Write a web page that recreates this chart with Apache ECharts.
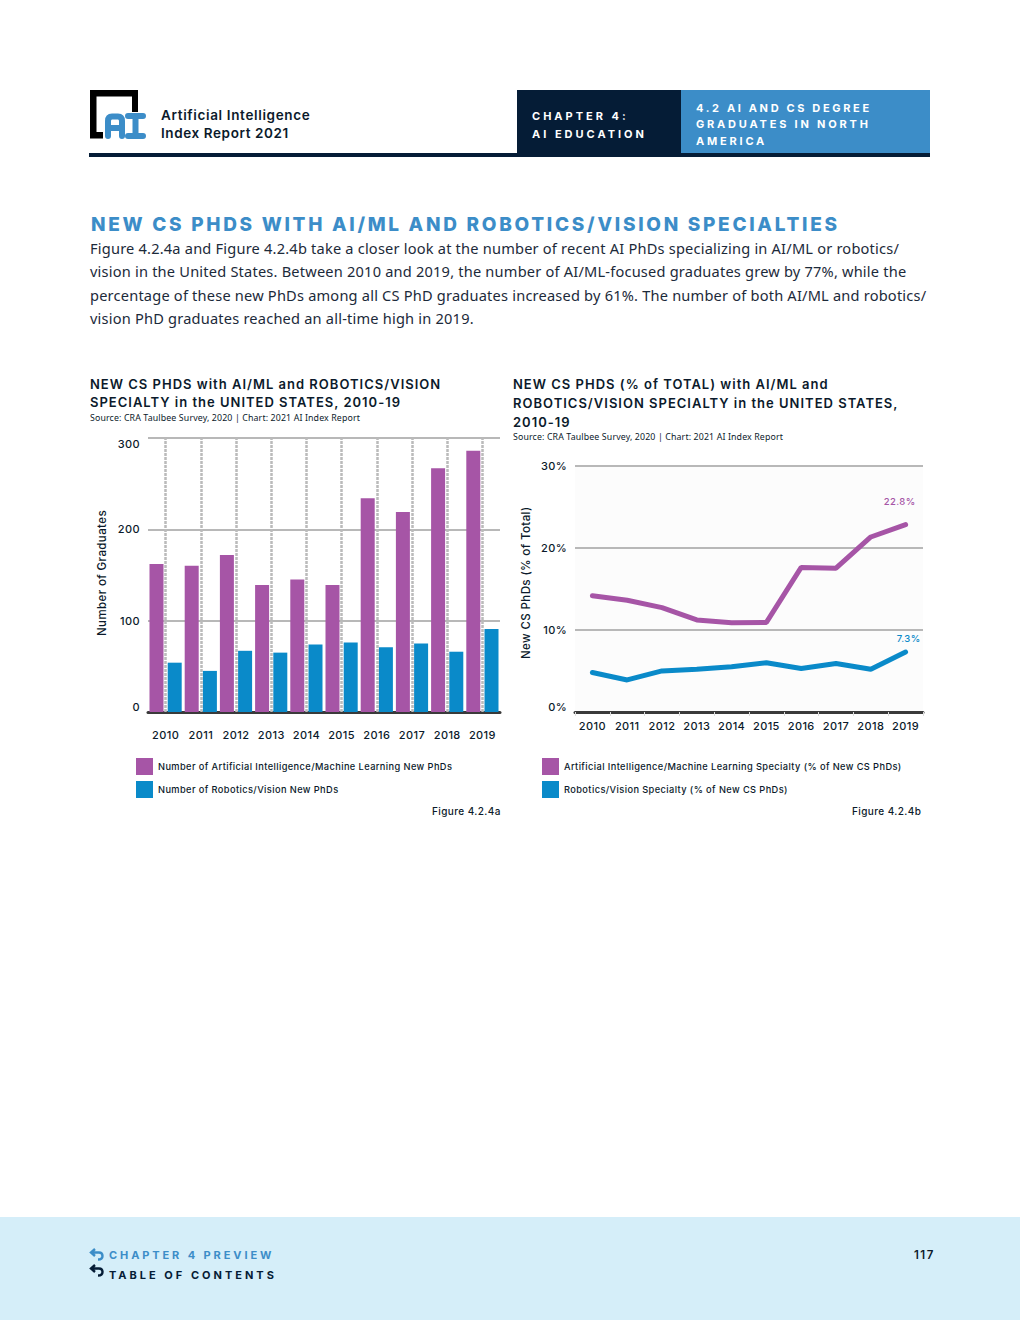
<!DOCTYPE html>
<html><head><meta charset="utf-8">
<script src="https://cdn.jsdelivr.net/npm/echarts@6/dist/echarts.min.js"></script>
<style>
html,body{margin:0;padding:0;background:#fff}
#page{position:relative;width:1020px;height:1320px;overflow:hidden;background:#fff}
#chart{position:absolute;left:0;top:0;width:1020px;height:1320px}
#chart text{letter-spacing:.4px}
#chart text[style*="13px"]{letter-spacing:1px}
#chart text[style*="Noto"]{letter-spacing:.13px}
.t{position:absolute;white-space:nowrap;line-height:1;transform:translateY(-50%)}
.b{position:absolute}
.hd{font-family:Inter;font-weight:700}
.para{font-family:"Noto Sans";font-size:14.6px;letter-spacing:.2px;color:#1c2a3a;left:90px}
</style></head><body>
<div id="page">
<div class="b" style="left:89px;top:153px;width:841px;height:4px;background:#051c36"></div>
<div class="b" style="left:517px;top:90px;width:164px;height:67px;background:#051c36"></div>
<div class="b" style="left:681px;top:90px;width:249px;height:63px;background:#3c8dc8"></div>
<svg class="b" style="left:88px;top:88px" width="60" height="54" viewBox="88 88 60 54">
<path d="M90 90H138V112H132V96.500H96.500V132H103V138.500H90Z" fill="#000"/>
<path d="M108 136V121Q108 116.500 112 116.500H118Q122 116.500 122 121V136M108 128H122" fill="none" stroke="#3c8dc8" stroke-width="6" stroke-linecap="round"/>
<path d="M128 116H143M128 136H143M135.500 116V136" fill="none" stroke="#3c8dc8" stroke-width="6" stroke-linecap="round"/>
</svg>
<div class="t hd" style="left:161px;top:116px;font-size:13.500px;font-weight:600;letter-spacing:.65px;color:#0b1a2b">Artificial Intelligence</div>
<div class="t hd" style="left:161px;top:134px;font-size:13.500px;font-weight:600;letter-spacing:.6px;color:#0b1a2b">Index Report 2021</div>
<div class="t hd" style="left:532px;top:116px;font-size:11px;color:#fff;letter-spacing:3px">CHAPTER 4:</div>
<div class="t hd" style="left:532px;top:134px;font-size:11px;color:#fff;letter-spacing:3px">AI EDUCATION</div>
<div class="t hd" style="left:696px;top:108px;font-size:11px;color:#fff;letter-spacing:2.650px">4.2 AI AND CS DEGREE</div>
<div class="t hd" style="left:696px;top:124px;font-size:11px;color:#fff;letter-spacing:2.800px">GRADUATES IN NORTH</div>
<div class="t hd" style="left:696px;top:141px;font-size:11px;color:#fff;letter-spacing:2.800px">AMERICA</div>
<div class="t hd" style="left:91px;top:224px;font-size:19px;font-weight:800;color:#3c8dc8;letter-spacing:2.700px">NEW CS PHDS WITH AI/ML AND ROBOTICS/VISION SPECIALTIES</div>
<div class="t para" style="top:248px;">Figure 4.2.4a and Figure 4.2.4b take a closer look at the number of recent AI PhDs specializing in AI/ML or robotics/</div>
<div class="t para" style="top:271px;">vision in the United States. Between 2010 and 2019, the number of AI/ML-focused graduates grew by 77%, while the</div>
<div class="t para" style="top:295px;">percentage of these new PhDs among all CS PhD graduates increased by 61%. The number of both AI/ML and robotics/</div>
<div class="t para" style="top:318px;">vision PhD graduates reached an all-time high in 2019.</div>
<div id="chart"></div>
<div class="b" style="left:0;top:1217px;width:1020px;height:103px;background:#d5eef9"></div>
<svg class="b" style="left:89px;top:1247px" width="16" height="32" viewBox="0 0 16 32">
<path d="M6 2L2 5.500L6 9M3 5.500H10Q13.500 5.500 13.500 9Q13.500 12.500 9 12.500" fill="none" stroke="#3c8dc8" stroke-width="2.400"/>
<path d="M6 19L2 22.500L6 26M3 22.500H10Q13.500 22.500 13.500 26Q13.500 29.500 9 29.500" fill="none" stroke="#051c36" stroke-width="2.400" transform="translate(0,-1)"/>
</svg>
<div class="t hd" style="left:109px;top:1255px;font-size:11px;color:#3c8dc8;letter-spacing:2.900px">CHAPTER 4 PREVIEW</div>
<div class="t hd" style="left:109px;top:1275px;font-size:11px;color:#051c36;letter-spacing:3px">TABLE OF CONTENTS</div>
<div class="t hd" style="left:914px;top:1256px;font-size:11.500px;font-weight:600;color:#0b1a2b;letter-spacing:1.500px">117</div>
</div>
<script>
const categories = ['2010','2011','2012','2013','2014','2015','2016','2017','2018','2019'];
const aiMlCount = [162,160,172,139,145,139,234,219,267,286];
const roboticsCount = [54,45,67,65,74,76,71,75,66,91];
const aiMlShare = [14.15,13.6,12.7,11.2,10.85,10.9,17.6,17.5,21.3,22.8];
const roboticsShare = [4.8,3.9,5.0,5.2,5.5,6.0,5.3,5.9,5.2,7.3];
const countTicks = {min:0,max:300,interval:100};
const shareTicks = {min:0,max:30,interval:10};
const PURPLE='#a655a6', BLUE='#0a8ac9', INK='#0b1a2b', GRID='#b8b8b8', BASE='#3a3a3a';
const chart = echarts.init(document.getElementById('chart'),null,{renderer:'svg'});
const tf = lh=>({fontFamily:'Inter',fontSize:13,fontWeight:600,color:INK,lineHeight:lh});
const sf = {fontFamily:'Noto Sans',fontSize:8.800,color:INK,fontWeight:400};
const lab = {fontFamily:'Inter',fontSize:11,fontWeight:500,color:INK};
const fig = {fontFamily:'Inter',fontSize:10,fontWeight:500,color:INK};
const leg = {fontFamily:'Inter',fontSize:9.250,fontWeight:500,color:INK};
function xAxis(g,margin,tick){return {type:'category',gridIndex:g,data:categories,
  axisLine:{show:true,lineStyle:{color:BASE,width:3}},
  axisTick:tick,
  axisLabel:Object.assign({margin:margin,interval:0},lab),splitLine:{show:false}};}
function yAxis(g,ticks,name,gap,shift,fmt,extra){return Object.assign({type:'value',gridIndex:g,name:name,nameLocation:'middle',nameGap:gap,
  nameTextStyle:Object.assign({},lab,{fontSize:11.500,padding:[0,0,0,shift]}),
  axisLine:{show:false},axisTick:{show:false},
  axisLabel:Object.assign({margin:8,formatter:fmt},lab,extra),
  splitLine:{show:true,lineStyle:{color:GRID,width:2}}},ticks);}
function endLabel(arr,color,dist,dx){return arr.map((v,i)=>i===arr.length-1?{value:v,label:{show:true,position:'top',distance:dist,offset:[dx,0],
  formatter:p=>p.value.toFixed(1)+'%',fontFamily:'Inter',fontSize:9.500,fontWeight:500,color:color}}:v);}
chart.setOption({
  animation:false,
  title:[
   {left:90,top:375,padding:0,text:'NEW CS PHDS with AI/ML and ROBOTICS/VISION\nSPECIALTY in the UNITED STATES, 2010-19',textStyle:tf(18)},
   {left:90,top:413,padding:0,text:'Source: CRA Taulbee Survey, 2020 | Chart: 2021 AI Index Report',textStyle:sf},
   {left:513,top:374,padding:0,text:'NEW CS PHDS (% of TOTAL) with AI/ML and\nROBOTICS/VISION SPECIALTY in the UNITED STATES,\n2010-19',textStyle:tf(19)},
   {left:513,top:432,padding:0,text:'Source: CRA Taulbee Survey, 2020 | Chart: 2021 AI Index Report',textStyle:sf},
   {left:432,top:806,padding:0,text:'Figure 4.2.4a',textStyle:fig},
   {left:852,top:806,padding:0,text:'Figure 4.2.4b',textStyle:fig}
  ],
  grid:[
   {left:148,top:438,width:352,height:274},
   {left:575,top:465.5,width:348,height:246.5,show:true,backgroundColor:'#fcfcfc',borderWidth:0}
  ],
  xAxis:[
   xAxis(0,17,{show:true,alignWithLabel:true,inside:true,length:274,lineStyle:{color:'#bbbbbb',width:2.500,type:[3,1]}}),
   xAxis(1,8,{show:true,length:4,lineStyle:{color:'#dddddd',width:1}})
  ],
  yAxis:[
   yAxis(0,countTicks,'Number of Graduates',40,4,'{value}',{verticalAlignMinLabel:'bottom',verticalAlignMaxLabel:'top'}),
   yAxis(1,shareTicks,'New CS PhDs (% of Total)',43,12,'{value}%',{verticalAlignMinLabel:'bottom'})
  ],
  legend:[
   {left:136,top:758,orient:'vertical',padding:0,itemGap:6,itemWidth:17,itemHeight:17,icon:'rect',
    data:['Number of Artificial Intelligence/Machine Learning New PhDs','Number of Robotics/Vision New PhDs'],
    textStyle:leg},
   {left:542,top:758,orient:'vertical',padding:0,itemGap:6,itemWidth:17,itemHeight:17,icon:'rect',
    data:['Artificial Intelligence/Machine Learning Specialty (% of New CS PhDs)','Robotics/Vision Specialty (% of New CS PhDs)'],
    textStyle:leg}
  ],
  series:[
   {name:'Number of Artificial Intelligence/Machine Learning New PhDs',type:'bar',xAxisIndex:0,yAxisIndex:0,data:aiMlCount,barWidth:14,barGap:'30%',itemStyle:{color:PURPLE}},
   {name:'Number of Robotics/Vision New PhDs',type:'bar',xAxisIndex:0,yAxisIndex:0,data:roboticsCount,barWidth:14,itemStyle:{color:BLUE}},
   {name:'Artificial Intelligence/Machine Learning Specialty (% of New CS PhDs)',type:'line',xAxisIndex:1,yAxisIndex:1,data:endLabel(aiMlShare,PURPLE,18,-6),symbol:'circle',symbolSize:1,showSymbol:true,lineStyle:{color:PURPLE,width:5,cap:'round'},itemStyle:{color:PURPLE}},
   {name:'Robotics/Vision Specialty (% of New CS PhDs)',type:'line',xAxisIndex:1,yAxisIndex:1,data:endLabel(roboticsShare,BLUE,8,3),symbol:'circle',symbolSize:1,showSymbol:true,lineStyle:{color:BLUE,width:5,cap:'round'},itemStyle:{color:BLUE}}
  ]
});
</script>
</body></html>
